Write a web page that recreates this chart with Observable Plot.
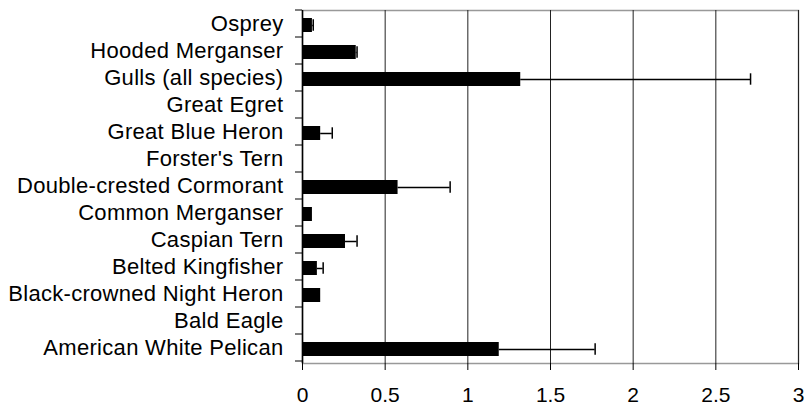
<!DOCTYPE html>
<html>
<head>
<meta charset="utf-8">
<script src="https://cdn.jsdelivr.net/npm/d3@7"></script>
<script src="https://cdn.jsdelivr.net/npm/@observablehq/plot@0.6"></script>
<style>
  html, body { margin: 0; padding: 0; background: #fff; }
  #chart svg { display: block; }
</style>
</head>
<body>
<div id="chart"></div>
<script>
// Categories, top to bottom
const species = [
  "Osprey",
  "Hooded Merganser",
  "Gulls (all species)",
  "Great Egret",
  "Great Blue Heron",
  "Forster's Tern",
  "Double-crested Cormorant",
  "Common Merganser",
  "Caspian Tern",
  "Belted Kingfisher",
  "Black-crowned Night Heron",
  "Bald Eagle",
  "American White Pelican"
];
// Bar values
const means = [0.06, 0.325, 1.32, 0.004, 0.11, 0.004, 0.578, 0.06, 0.26, 0.09, 0.11, 0.003, 1.19];
// Upper end of error bar (null = none)
const uppers = [0.065, 0.33, 2.71, null, 0.18, null, 0.893, null, 0.33, 0.125, null, null, 1.77];
const xTicks = [0, 0.5, 1, 1.5, 2, 2.5, 3];

const data = species.map((s, i) => ({species: s, mean: means[i], upper: uppers[i]}));
const errs = data.filter(d => d.upper != null);

const FONT = "Liberation Sans, Arial, sans-serif";

const chart = Plot.plot({
  width: 805,
  height: 408,
  marginLeft: 302,
  marginRight: 7,
  marginTop: 10,
  marginBottom: 45,
  style: {fontFamily: FONT, fontSize: "21px", color: "#000", background: "#fff"},
  x: {domain: [0, 3], ticks: xTicks, tickFormat: d => String(d)},
  y: {domain: species, paddingInner: 0.5, paddingOuter: 0.25},
  marks: [
    Plot.frame({stroke: "#999", strokeWidth: 1.5}),
    Plot.gridX(xTicks.slice(1), {stroke: "#222", strokeOpacity: 1, strokeWidth: 1}),
    Plot.barX(data, {x: "mean", y: "species", fill: "#000"}),
    Plot.ruleY(errs, {y: "species", x1: "mean", x2: "upper", stroke: "#000", strokeWidth: 1.5}),
    Plot.tickX(errs, {x: "upper", y: "species", stroke: "#000", strokeWidth: 1.5, insetTop: 1.3, insetBottom: 1.3}),
    Plot.ruleX([0], {stroke: "#000", strokeWidth: 1.5}),
    Plot.axisX({ticks: xTicks, tickFormat: d => String(d), tickSize: 7, tickPadding: 17, label: null, line: true, stroke: "#000", fontSize: 21}),
    Plot.axisY({tickSize: 7, tickPadding: 12, label: null, stroke: "#000", fontSize: 22, dy: -2})
  ]
});

document.getElementById("chart").appendChild(chart);

// y labels: slightly wider spacing as in the reference
const labelGroup = chart.querySelector('g[aria-label="y-axis tick label"]');
if (labelGroup) labelGroup.style.letterSpacing = "0.3px";

// Move the y-axis ticks to the category boundaries (Excel style)
const ys = chart.scale("y");
const step = ys.step || ((408 - 10 - 45) / species.length);
const tickGroup = chart.querySelector('g[aria-label="y-axis tick"]');
if (tickGroup) {
  const paths = Array.from(tickGroup.querySelectorAll("path"));
  paths.forEach(p => {
    const t = p.getAttribute("transform") || "";
    p.setAttribute("transform", t + ` translate(0,${-step / 2})`);
  });
  if (paths.length) {
    const last = paths[paths.length - 1];
    const extra = last.cloneNode(true);
    const t0 = last.getAttribute("transform").replace(/ translate\(0,[^)]*\)$/, "");
    extra.setAttribute("transform", t0 + ` translate(0,${step / 2})`);
    tickGroup.appendChild(extra);
  }
}
</script>
</body>
</html>
